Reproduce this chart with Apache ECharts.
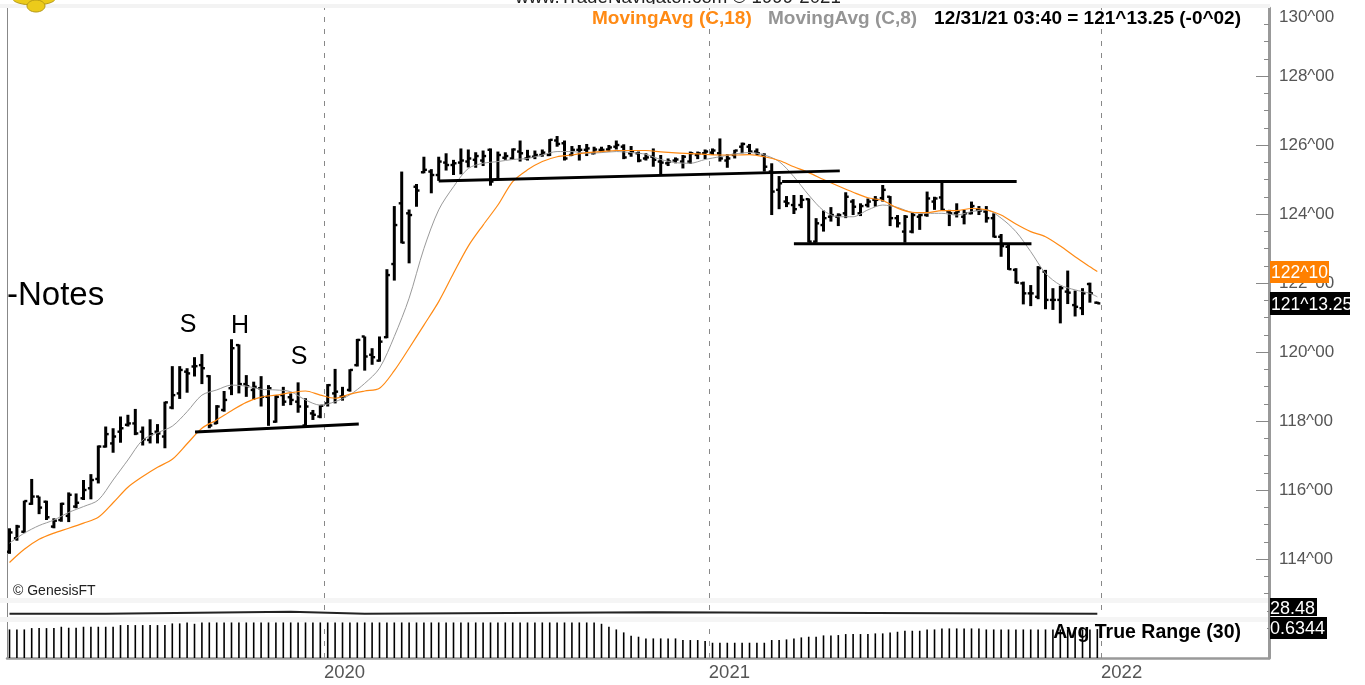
<!DOCTYPE html>
<html><head><meta charset="utf-8">
<style>html,body{margin:0;padding:0;background:#fff}#c{width:1365px;height:685px}</style>
<script src="https://cdn.jsdelivr.net/npm/echarts@6/dist/echarts.min.js"></script>
</head><body><div id="c"></div>
<script>
const opens=[114.21,114.60,114.79,115.60,115.81,115.66,114.94,115.13,115.25,115.52,
115.76,116.05,116.32,117.26,117.35,117.69,117.89,117.93,117.69,117.45,
117.69,117.55,118.39,118.80,119.43,119.58,119.62,119.30,117.93,118.32,
118.95,120.20,119.07,118.90,118.95,118.70,117.98,118.75,118.69,118.56,
117.87,118.22,118.13,118.51,118.80,118.71,118.90,119.62,120.45,119.92,
119.75,120.43,122.55,124.31,124.02,124.79,125.21,125.23,125.13,125.49,
125.42,125.49,125.52,125.57,125.55,125.86,125.00,125.63,125.61,125.81,
125.61,125.66,125.71,125.71,126.13,126.05,125.71,125.86,125.86,125.76,
125.86,125.87,125.95,125.95,125.76,125.76,125.61,125.66,125.52,125.47,
125.55,125.52,125.52,125.71,125.76,125.78,125.76,125.55,125.71,125.95,
125.95,125.81,125.71,125.23,124.70,124.36,124.26,124.26,124.43,123.20,
123.68,123.92,123.92,124.02,124.36,124.02,124.26,124.41,124.46,124.50,
123.88,123.49,123.49,123.92,123.97,124.36,124.48,124.07,124.02,123.92,
124.02,124.12,124.07,123.88,123.34,123.05,122.38,121.99,121.70,121.60,
122.33,121.51,121.51,121.75,121.36,121.27,121.97,121.43];
const highs=[114.89,114.99,115.69,116.32,115.81,115.69,115.18,115.63,115.93,115.90,
116.29,116.46,117.29,117.84,117.79,118.13,118.18,118.35,117.84,118.05,
117.91,118.56,119.59,119.59,119.53,119.85,119.94,119.33,118.46,118.87,
120.37,120.22,119.33,119.14,119.30,119.04,118.75,118.99,118.80,119.12,
118.66,118.32,118.46,119.07,119.51,118.99,119.50,120.38,120.45,120.11,
120.45,122.40,124.23,125.23,124.13,124.87,125.66,125.30,125.66,125.76,
125.57,125.90,125.87,125.79,125.84,125.90,125.81,125.79,125.90,126.13,
125.86,125.84,125.87,126.17,126.26,126.13,125.97,126.00,126.03,125.95,
125.95,126.00,126.13,126.02,125.97,125.81,125.76,125.90,125.71,125.61,
125.64,125.71,125.81,125.81,125.87,125.90,126.19,125.73,125.86,126.07,
126.03,125.90,125.76,125.47,125.10,124.52,124.55,124.55,124.45,123.88,
124.10,124.20,124.02,124.63,124.43,124.31,124.45,124.52,124.84,124.52,
123.97,123.97,124.04,124.00,124.65,124.50,124.92,124.12,124.31,124.12,
124.36,124.23,124.23,124.02,123.42,123.13,122.43,122.04,121.94,122.49,
122.38,121.85,121.92,122.36,121.78,121.85,122.01,121.46];
const lows=[114.15,114.53,114.75,115.57,115.30,115.13,114.89,115.08,115.07,115.47,
115.71,115.73,116.19,117.23,117.08,117.37,117.84,117.59,117.29,117.35,
117.35,117.21,118.34,118.64,118.82,119.29,119.07,117.79,117.91,118.27,
118.75,118.80,118.70,118.61,118.42,117.86,117.95,118.44,118.46,118.24,
117.86,118.03,118.08,118.42,118.51,118.59,118.85,119.58,119.46,119.63,
119.72,120.40,122.07,123.15,122.57,124.21,125.18,124.60,124.96,125.26,
125.13,125.15,125.35,125.34,125.39,124.82,124.99,125.57,125.57,125.52,
125.55,125.59,125.66,125.68,125.95,125.55,125.68,125.55,125.68,125.73,
125.79,125.81,125.87,125.59,125.66,125.50,125.55,125.37,125.13,125.39,
125.47,125.32,125.45,125.59,125.59,125.71,125.52,125.34,125.61,125.76,
125.73,125.71,125.23,123.97,124.14,124.20,124.00,124.17,123.17,123.17,
123.49,123.78,123.65,123.88,123.97,123.94,124.19,124.21,124.36,123.65,
123.61,123.17,123.44,123.54,123.92,124.12,124.10,123.65,123.90,123.70,
123.99,123.97,123.75,123.32,122.76,122.38,121.99,121.38,121.33,121.53,
121.24,121.22,120.83,121.39,121.03,121.07,121.43,121.40];
const closes=[114.77,114.94,115.68,115.81,115.49,115.21,115.11,115.60,115.86,115.63,
116.00,116.29,117.26,117.62,117.55,117.79,117.93,117.64,117.47,117.62,
117.64,118.54,118.75,119.48,119.38,119.59,119.53,117.87,118.42,118.61,
120.11,119.07,119.01,118.99,118.70,118.95,118.70,118.56,118.61,118.42,
118.42,118.18,118.44,119.04,118.85,118.71,119.48,120.35,119.87,119.85,
120.30,122.23,123.68,123.17,123.97,124.68,125.28,125.13,125.52,125.42,
125.47,125.55,125.61,125.68,125.68,124.94,125.71,125.68,125.87,125.76,
125.66,125.71,125.78,126.15,126.03,125.61,125.86,125.86,125.90,125.87,
125.86,125.93,126.00,125.64,125.81,125.55,125.64,125.57,125.49,125.52,
125.58,125.66,125.76,125.76,125.81,125.84,125.61,125.61,125.84,126.03,
125.81,125.76,125.37,124.65,124.89,124.31,124.14,124.41,123.20,123.73,
123.88,123.97,123.97,124.50,124.21,124.23,124.36,124.41,124.70,123.88,
123.73,123.92,123.97,123.97,124.45,124.45,124.12,124.02,124.07,124.02,
124.23,124.10,123.88,123.34,123.07,122.40,122.01,121.70,121.70,122.43,
121.51,121.51,121.85,121.72,121.31,121.70,121.70,121.41];
const maWeeks=[0,2,4,6,8,10,12,14,16,18,20,22,24,26,28,30,32,34,36,38,40,42,44,46,48,50,52,54,56,58,60,62,64,66,68,70,72,74,76,78,80,82,84,86,88,90,92,94,96,98,100,102,104,106,108,110,112,114,116,118,120,122,124,126,128,130,132,134,136,138,140,142,144,146,147];
const ma18=[113.90,114.28,114.57,114.75,114.89,115.04,115.21,115.63,116.08,116.39,116.66,116.89,117.34,117.79,118.03,118.30,118.54,118.69,118.75,118.82,118.87,118.75,118.66,118.78,118.87,118.95,119.46,120.11,120.78,121.46,122.28,123.07,123.68,124.26,124.94,125.28,125.52,125.66,125.71,125.78,125.81,125.84,125.84,125.84,125.80,125.77,125.75,125.73,125.71,125.71,125.72,125.66,125.55,125.37,125.20,125.00,124.81,124.63,124.47,124.39,124.17,124.05,124.04,124.10,124.10,124.16,124.12,123.97,123.71,123.49,123.34,123.07,122.76,122.47,122.33];
const ma8=[114.46,114.75,114.97,115.13,115.35,115.52,115.71,116.29,116.87,117.45,117.66,117.85,118.27,118.75,118.90,119.04,119.01,118.92,118.90,118.85,118.61,118.46,118.56,118.76,119.09,119.53,120.45,121.56,123.00,124.12,124.79,125.32,125.47,125.52,125.58,125.61,125.71,125.81,125.81,125.76,125.78,125.81,125.78,125.73,125.58,125.49,125.47,125.58,125.66,125.74,125.78,125.71,125.52,125.08,124.55,124.10,123.92,123.92,124.12,124.26,124.19,124.04,124.02,124.02,123.97,124.07,124.12,123.88,123.49,122.91,122.28,121.94,121.80,121.70,121.60];
const atr=[.627,.627,.627,.656,.656,.656,.656,.686,.664,.664,
.686,.686,.686,.686,.686,.722,.722,.722,.722,.722,
.722,.722,.759,.759,.78,.751,.78,.78,.78,.78,
.78,.78,.78,.78,.78,.78,.78,.78,.78,.78,
.78,.78,.78,.78,.78,.78,.78,.78,.78,.78,
.78,.78,.78,.78,.78,.78,.78,.78,.78,.78,
.78,.78,.78,.78,.78,.78,.78,.78,.78,.78,
.78,.78,.78,.78,.78,.78,.78,.78,.78,.78,
.751,.686,.627,.562,.489,.467,.43,.43,.43,.43,
.43,.394,.394,.394,.372,.335,.335,.335,.335,.335,
.335,.335,.335,.394,.394,.408,.43,.452,.467,.467,
.496,.496,.503,.525,.525,.525,.525,.54,.54,.562,
.576,.598,.598,.598,.627,.627,.649,.649,.649,.649,
.649,.649,.627,.627,.627,.627,.627,.627,.627,.627,
.627,.627,.627,.627,.627,.627,.627,.6344];
const topLineWeeks=[0,13,38,48,87,147];
const topLineValues=[28.48,28.68,28.48,28.62,28.48,28.48];
const neckline1=[[25.07,117.68],[47.2,117.91]];
const neckline2=[[58.0,124.96],[112.2,125.25]];
const rangeTop=[[104.4,124.94],[136.1,124.94]];
const rangeBottom=[[106.0,123.14],[138.1,123.14]];
const yearBoundaries=[42.5,94.5,147.5];
const yearLabels=['2020','2021','2022'];
const yTicks={min:112,max:130,interval:2};
const xMin=-0.338,xMax=170.2;
const FONT='"Liberation Sans",Arial,sans-serif';

const bars=opens.map((o,i)=>[i,o,closes[i],lows[i],highs[i]]);
function renderBar(params,api){
  const i=api.value(0);
  const o=api.coord([i,api.value(1)]),c=api.coord([i,api.value(2)]),l=api.coord([i,api.value(3)]),h=api.coord([i,api.value(4)]);
  const st={stroke:'#000',lineWidth:3};
  const tk={stroke:'#000',lineWidth:2.4};
  return {type:'group',children:[
    {type:'line',shape:{x1:h[0],y1:h[1],x2:l[0],y2:l[1]},style:st},
    {type:'line',shape:{x1:o[0]-3,y1:o[1],x2:o[0],y2:o[1]},style:tk},
    {type:'line',shape:{x1:c[0],y1:c[1],x2:c[0]+3,y2:c[1]},style:tk}
  ]};
}
const xa=(g,extra)=>Object.assign({type:'value',gridIndex:g,min:xMin,max:xMax,show:false,splitLine:{show:false}},extra||{});
const trend=(d)=>({type:'line',xAxisIndex:0,yAxisIndex:0,data:d,symbol:'none',silent:true,z:6,lineStyle:{color:'#000',width:3},animation:false});
function pair(xs,ys){return xs.map((x,i)=>[x,ys[i]]);}
const txt=(x,y,s,o)=>({type:'text',x,y,z:o.z||20,style:Object.assign({text:s,fontFamily:FONT,fill:'#000',verticalAlign:'middle',align:'left'},o)});
const option={
  animation:false,backgroundColor:'#fff',
  grid:[
    {left:7,width:1262,top:7,height:621},
    {left:7,width:1262,top:603,height:13},
    {left:7,width:1262,top:622,height:36},
    {left:7,width:1262,top:8,height:650}
  ],
  xAxis:[xa(0),xa(1),xa(2),
    {type:'value',gridIndex:3,min:xMin,max:xMax,show:true,position:'bottom',splitLine:{show:false},
     axisLine:{show:true,onZero:false,lineStyle:{color:'#999',width:2.5}},axisTick:{show:false},
     axisLabel:{show:true,customValues:yearBoundaries,margin:5,color:'#555',fontSize:18.5,fontFamily:FONT,align:'left',
       formatter:v=>yearLabels[yearBoundaries.indexOf(v)]||''}}
  ],
  yAxis:[
    {type:'value',gridIndex:0,position:'right',min:yTicks.min,max:yTicks.max,interval:yTicks.interval,splitLine:{show:false},
     axisLine:{show:false,onZero:false},
     axisTick:{show:true,inside:true,length:13,lineStyle:{color:'#888',width:1}},
     minorTick:{show:true,splitNumber:4,length:5,lineStyle:{color:'#888',width:1}},
     axisLabel:{show:true,margin:10,color:'#555',fontSize:17,fontFamily:FONT,showMinLabel:false,verticalAlignMaxLabel:'top',padding:[2,0,0,0],
       formatter:v=>v+'^00'}},
    {type:'value',gridIndex:1,min:28.25,max:29.55,show:false,splitLine:{show:false}},
    {type:'value',gridIndex:2,min:0,max:0.79,show:false,splitLine:{show:false}},
    {type:'value',gridIndex:3,position:'left',min:0,max:1,splitLine:{show:false},axisLabel:{show:false},axisTick:{show:false},
     axisLine:{show:true,onZero:false,lineStyle:{color:'#888',width:1}}},
    {type:'value',gridIndex:3,position:'right',min:0,max:1,splitLine:{show:false},axisLabel:{show:false},axisTick:{show:false},
     axisLine:{show:true,onZero:false,lineStyle:{color:'#999',width:3}}}
  ],
  series:[
    {type:'line',xAxisIndex:3,yAxisIndex:3,data:[],symbol:'none',silent:true,z:1,
     markLine:{silent:true,symbol:'none',animation:false,label:{show:false},lineStyle:{color:'#888',type:[5,7],width:1},
       data:yearBoundaries.map(x=>({xAxis:x}))}},
    {type:'custom',name:'T-Notes',xAxisIndex:0,yAxisIndex:0,data:bars,renderItem:renderBar,encode:{x:0,y:[1,2,3,4]},silent:true,z:3,clip:true},
    {type:'line',name:'MovingAvg (C,8)',xAxisIndex:0,yAxisIndex:0,data:pair(maWeeks,ma8),symbol:'none',smooth:0.3,silent:true,z:4,lineStyle:{color:'#9a9a9a',width:1}},
    {type:'line',name:'MovingAvg (C,18)',xAxisIndex:0,yAxisIndex:0,data:pair(maWeeks,ma18),symbol:'none',smooth:0.3,silent:true,z:5,lineStyle:{color:'#ff8a14',width:1.2}},
    trend(neckline1),trend(neckline2),trend(rangeTop),trend(rangeBottom),
    {type:'line',xAxisIndex:1,yAxisIndex:1,data:pair(topLineWeeks,topLineValues),step:'end',symbol:'none',silent:true,z:3,lineStyle:{color:'#222',width:2}},
    {type:'bar',name:'Avg True Range (30)',xAxisIndex:2,yAxisIndex:2,data:atr.map((v,i)=>[i,v]),barWidth:1.6,silent:true,z:3,itemStyle:{color:'#000'}}
  ],
  graphic:{elements:[
    {type:'rect',z:1,silent:true,shape:{x:1240,y:598,width:27,height:34},style:{fill:'#fff'}},
    {type:'rect',z:10,silent:true,shape:{x:0,y:4,width:1270,height:4},style:{fill:'#f3f3f3'}},
    {type:'rect',z:10,silent:true,shape:{x:0,y:598,width:1268,height:5},style:{fill:'#f5f5f5'}},
    {type:'rect',z:10,silent:true,shape:{x:0,y:617,width:1268,height:5},style:{fill:'#f5f5f5'}},
    txt(678,-2,'www.TradeNavigator.com © 1999-2021',{align:'center',fontSize:18.7,fill:'#222',z:9}),
    {type:'ellipse',z:12,silent:true,shape:{cx:34,cy:-1,rx:21,ry:6},style:{fill:'#eccb1a',stroke:'#b59a1a',lineWidth:1}},
    {type:'ellipse',z:12,silent:true,shape:{cx:36,cy:6,rx:9,ry:6},style:{fill:'#eccb1a',stroke:'#b59a1a',lineWidth:1}},
    txt(592,19,'MovingAvg (C,18)',{fontSize:19,fontWeight:'bold',fill:'#ff8a14'}),
    txt(768,19,'MovingAvg (C,8)',{fontSize:19,fontWeight:'bold',fill:'#959595'}),
    txt(1241,19,'12/31/21 03:40 = 121^13.25 (-0^02)',{align:'right',fontSize:19,fontWeight:'bold'}),
    txt(1241,633,'Avg True Range (30)',{align:'right',fontSize:19.5,fontWeight:'bold'}),
    txt(7,296,'-Notes',{fontSize:33}),
    txt(188,325,'S',{align:'center',fontSize:25}),
    txt(240,326,'H',{align:'center',fontSize:25}),
    txt(299,357,'S',{align:'center',fontSize:25}),
    txt(13,591,'© GenesisFT',{fontSize:14,fill:'#222'}),
    {type:'rect',z:15,silent:true,shape:{x:1270,y:261,width:59,height:22},style:{fill:'#ff8000'}},
    txt(1271,273,'122^10',{fontSize:17.5,fill:'#fff'}),
    {type:'rect',z:15,silent:true,shape:{x:1270,y:292,width:80,height:23},style:{fill:'#000'}},
    txt(1271,305,'121^13.25',{fontSize:17.5,fill:'#fff'}),
    {type:'rect',z:25,silent:true,shape:{x:1350,y:290,width:15,height:27},style:{fill:'#fff'}},
    {type:'rect',z:15,silent:true,shape:{x:1270,y:598,width:47,height:18},style:{fill:'#000'}},
    txt(1270,609,'28.48',{fontSize:18,fill:'#fff'}),
    {type:'rect',z:15,silent:true,shape:{x:1270,y:617,width:57,height:22},style:{fill:'#000'}},
    txt(1270,629,'0.6344',{fontSize:18,fill:'#fff'})
  ]}
};
const chart=echarts.init(document.getElementById('c'),null,{renderer:'canvas'});
chart.setOption(option);
</script></body></html>
